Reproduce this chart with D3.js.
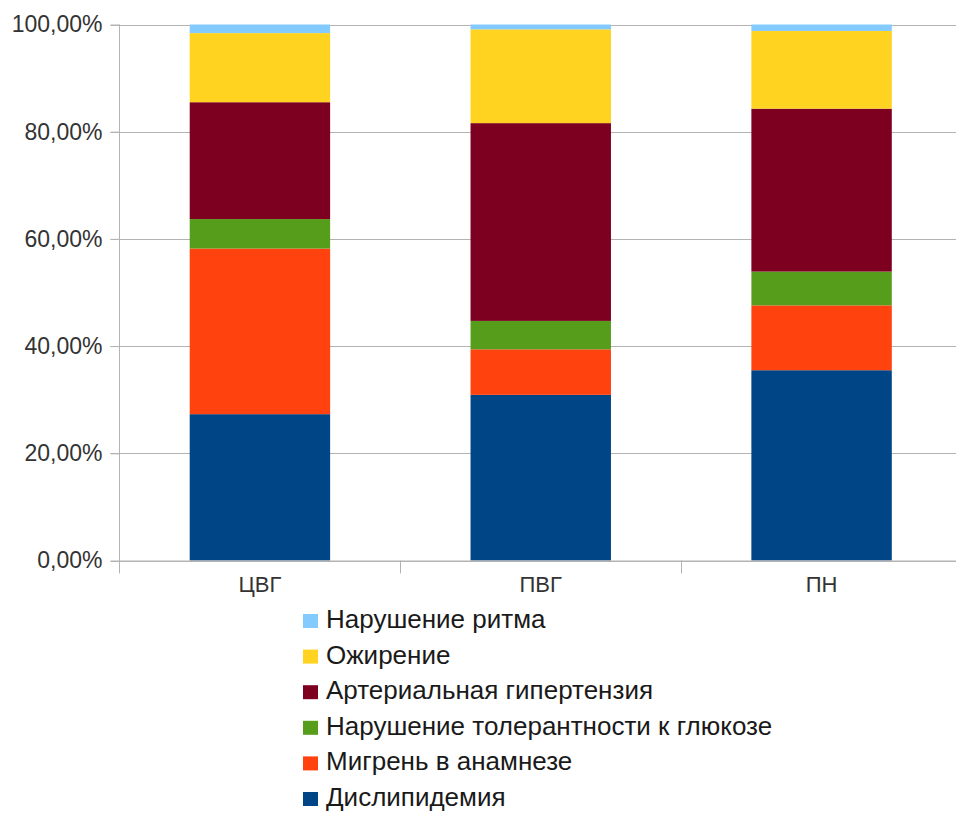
<!DOCTYPE html>
<html>
<head>
<meta charset="utf-8">
<script src="https://cdn.jsdelivr.net/npm/d3@7"></script>
<style>
  html, body { margin: 0; padding: 0; background: #fff; }
  svg { display: block; font-family: "Liberation Sans", Arial, sans-serif; }
</style>
</head>
<body>
<svg id="chart" width="956" height="814"></svg>
<script>
// Groups along the x axis
const categories = ["ЦВГ", "ПВГ", "ПН"];

// Series, stacked bottom to top (percent of each group)
const seriesNames = [
  "Дислипидемия",
  "Мигрень в анамнезе",
  "Нарушение толерантности к глюкозе",
  "Артериальная гипертензия",
  "Ожирение",
  "Нарушение ритма"
];
const dyslipidemia   = [27.3, 30.9, 35.5];
const migraine       = [30.9,  8.5, 12.1];
const glucoseTol     = [ 5.5,  5.3,  6.3];
const hypertension   = [21.8, 36.9, 30.4];
const obesity        = [12.9, 17.5, 14.5];
const rhythm         = [ 1.6,  0.9,  1.2];
const seriesColors = ["#004586", "#ff420e", "#579d1c", "#7e0021", "#ffd320", "#83caff"];

const yTicks = [0, 20, 40, 60, 80, 100];
const yTickLabels = ["0,00%", "20,00%", "40,00%", "60,00%", "80,00%", "100,00%"];

const seriesValues = [dyslipidemia, migraine, glucoseTol, hypertension, obesity, rhythm];
const rows = categories.map((c, i) => {
  const r = { cat: c };
  seriesNames.forEach((s, k) => { r[s] = seriesValues[k][i]; });
  return r;
});

const svg = d3.select("#chart");
const plot = { left: 119.5, right: 962, top: 24.5, bottom: 560.5 };

const x = d3.scaleBand().domain(categories).range([plot.left, plot.right])
  .paddingInner(0.5).paddingOuter(0.25);
const y = d3.scaleLinear().domain([0, 100]).range([plot.bottom, plot.top]);
const color = d3.scaleOrdinal().domain(seriesNames).range(seriesColors);

const gridColor = "#b3b3b3";

// horizontal gridlines
svg.append("g").selectAll("line").data(yTicks).join("line")
  .attr("x1", plot.left - 9).attr("x2", 956)
  .attr("y1", d => Math.round(y(d)) + 0.5).attr("y2", d => Math.round(y(d)) + 0.5)
  .attr("stroke", gridColor).attr("stroke-width", 1);

// stacked bars
const stack = d3.stack().keys(seriesNames)(rows);
svg.append("g").selectAll("g").data(stack).join("g")
  .attr("fill", d => color(d.key))
  .selectAll("rect").data(d => d).join("rect")
  .attr("x", d => x(d.data.cat))
  .attr("width", x.bandwidth())
  .attr("y", d => y(d[1]))
  .attr("height", d => y(d[0]) - y(d[1]));

// y axis
const yAxis = d3.axisLeft(y).tickValues(yTicks)
  .tickFormat((d, i) => yTickLabels[i]).tickSize(9).tickPadding(8);
const gy = svg.append("g").attr("transform", `translate(${plot.left},0)`).call(yAxis);
gy.select(".domain").attr("stroke", gridColor).attr("d", `M0,${plot.top}V${plot.bottom + 13}`);
gy.selectAll(".tick line").attr("stroke", gridColor);
gy.selectAll(".tick text").attr("font-size", 23).attr("fill", "#333")
  .attr("font-family", "Liberation Sans, Arial, sans-serif");

// x axis: category labels with separator ticks between groups
const gx = svg.append("g").attr("transform", `translate(0,${plot.bottom})`);
gx.append("line").attr("x1", plot.left).attr("x2", 956).attr("y1", 0.5).attr("y2", 0.5)
  .attr("stroke", gridColor);
const step = x.step();
gx.selectAll("line.sep").data(categories.slice(1)).join("line").attr("class", "sep")
  .attr("x1", d => Math.round(x(d) - (step - x.bandwidth()) / 2) + 0.5)
  .attr("x2", d => Math.round(x(d) - (step - x.bandwidth()) / 2) + 0.5)
  .attr("y1", 0).attr("y2", 13).attr("stroke", gridColor);
gx.selectAll("text").data(categories).join("text")
  .attr("x", d => x(d) + x.bandwidth() / 2).attr("y", 31)
  .attr("text-anchor", "middle").attr("font-size", 22).attr("fill", "#333")
  .text(d => d);

// legend, top entry is the top of the stack
const legendItems = seriesNames.slice().reverse();
const lg = svg.append("g").attr("transform", "translate(303,628)");
const item = lg.selectAll("g").data(legendItems).join("g")
  .attr("transform", (d, i) => `translate(0,${i * 35.6})`);
item.append("rect").attr("x", 0).attr("y", -14).attr("width", 15).attr("height", 14)
  .attr("fill", d => color(d));
item.append("text").attr("x", 23).attr("y", 0).attr("font-size", 26).attr("fill", "#1a1a1a")
  .text(d => d);
</script>
</body>
</html>
